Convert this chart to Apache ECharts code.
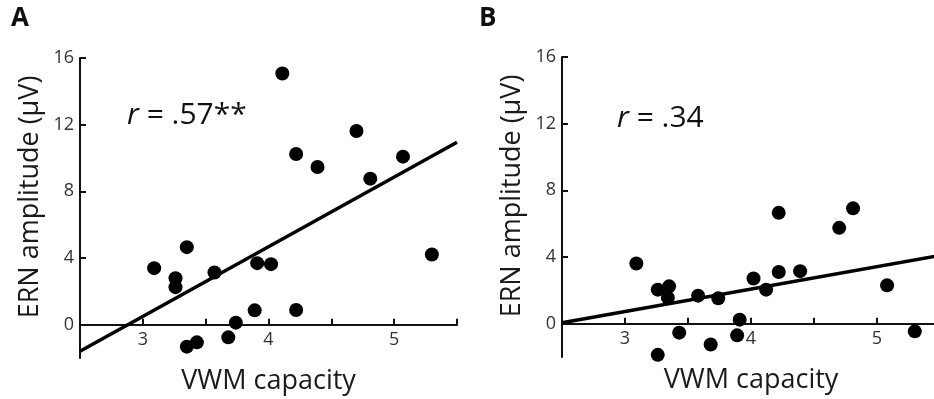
<!DOCTYPE html>
<html>
<head>
<meta charset="utf-8">
<script src="https://cdn.jsdelivr.net/npm/echarts@6/dist/echarts.min.js"></script>
<style>
  html, body { margin: 0; padding: 0; background: #fff; }
  #chart { width: 934px; height: 399px; }
</style>
</head>
<body>
<div id="chart"></div>
<script>
// panel A: VWM capacity vs ERN amplitude
const capacityA = [3.09, 3.26, 3.26, 3.35, 3.35, 3.43, 3.57, 3.68, 3.74, 3.89, 3.91, 4.02, 4.11, 4.22, 4.22, 4.39, 4.70, 4.81, 5.07, 5.30];
const ernA = [3.39, 2.79, 2.25, 4.65, -1.32, -1.06, 3.13, -0.76, 0.12, 0.86, 3.69, 3.63, 15.07, 10.24, 0.88, 9.46, 11.62, 8.76, 10.08, 4.21];
const fitA = [[2.5, -1.6], [5.5, 10.95]];

// panel B
const capacityB = [3.09, 3.26, 3.35, 3.34, 3.26, 3.43, 3.58, 3.68, 3.74, 3.91, 3.89, 4.02, 4.12, 4.22, 4.22, 4.39, 4.70, 4.81, 5.08, 5.30];
const ernB = [3.61, 2.04, 2.24, 1.56, -1.87, -0.54, 1.68, -1.25, 1.52, 0.24, -0.70, 2.71, 2.04, 6.65, 3.10, 3.15, 5.75, 6.92, 2.30, -0.46];
const fitB = [[2.5, 0.05], [5.5, 4.1]];

const yTicks = [0, 4, 8, 12, 16];
const xTicks = [3, 3.5, 4, 4.5, 5, 5.5];
const xLabels = [3, 4, 5];

const FONT = '"Open Sans", sans-serif';
const INK = '#111';

function xAxisFor(gridIndex) {
    return {
        type: 'value',
        gridIndex: gridIndex,
        min: 2.5,
        max: 5.5,
        name: 'VWM capacity',
        nameLocation: 'middle',
        nameGap: 10,
        nameTextStyle: { fontFamily: FONT, fontSize: 27, color: '#1a1a1a' },
        axisLine: { show: true, onZero: true, onZeroAxisIndex: gridIndex, lineStyle: { color: INK, width: 2 } },
        axisTick: { show: true, inside: true, length: 6, lineStyle: { color: INK, width: 2 }, customValues: xTicks },
        // labels sit just under the zero line, not under the grid bottom
        axisLabel: { show: true, fontFamily: FONT, fontSize: 18, color: '#333', margin: -27, customValues: xLabels },
        splitLine: { show: false },
    };
}

function yAxisFor(gridIndex) {
    return {
        type: 'value',
        gridIndex: gridIndex,
        min: -2,
        max: 16,
        name: 'ERN amplitude (μV)',
        nameLocation: 'middle',
        nameGap: 36,
        nameTextStyle: { fontFamily: FONT, fontSize: 27, color: '#1a1a1a', padding: [0, 0, 0, 22] },
        axisLine: { show: true, onZero: false, lineStyle: { color: INK, width: 2 } },
        axisTick: { show: true, inside: true, length: 6, lineStyle: { color: INK, width: 2 }, customValues: yTicks },
        axisLabel: { show: true, fontFamily: FONT, fontSize: 18, color: '#333', margin: 6, customValues: yTicks },
        splitLine: { show: false },
    };
}

function zip(xs, ys) {
    return xs.map((x, i) => [x, ys[i]]);
}

const chart = echarts.init(document.getElementById('chart'));

const option = {
    animation: false,
    backgroundColor: '#fff',
    grid: [
        { left: 80, top: 58, width: 377, height: 300, outerBoundsMode: 'none', containLabel: false },
        { left: 562, top: 57, width: 378, height: 300, outerBoundsMode: 'none', containLabel: false },
    ],
    xAxis: [xAxisFor(0), xAxisFor(1)],
    yAxis: [yAxisFor(0), yAxisFor(1)],
    series: [
        {
            type: 'scatter',
            xAxisIndex: 0, yAxisIndex: 0,
            data: zip(capacityA, ernA),
            symbolSize: 14,
            itemStyle: { color: '#000', opacity: 1 },
        },
        {
            type: 'line',
            xAxisIndex: 0, yAxisIndex: 0,
            data: fitA,
            showSymbol: false,
            lineStyle: { color: '#000', width: 3.5 },
        },
        {
            type: 'scatter',
            xAxisIndex: 1, yAxisIndex: 1,
            data: zip(capacityB, ernB),
            symbolSize: 14,
            itemStyle: { color: '#000', opacity: 1 },
        },
        {
            type: 'line',
            xAxisIndex: 1, yAxisIndex: 1,
            data: fitB,
            showSymbol: false,
            lineStyle: { color: '#000', width: 3.5 },
        },
    ],
    graphic: [
        { type: 'text', left: 11, top: 6, style: { text: 'A', fontFamily: FONT, fontWeight: 'bold', fontSize: 26, fill: '#111' } },
        { type: 'text', left: 479, top: 6, style: { text: 'B', fontFamily: FONT, fontWeight: 'bold', fontSize: 26, fill: '#111' } },
        {
            type: 'text', left: 127, top: 100,
            style: {
                text: '{i|r} = .57**',
                fontFamily: FONT, fontSize: 30, fill: '#111',
                rich: { i: { fontStyle: 'italic', fontFamily: FONT, fontSize: 30, fill: '#111' } },
            },
        },
        {
            type: 'text', left: 617, top: 103,
            style: {
                text: '{i|r} = .34',
                fontFamily: FONT, fontSize: 30, fill: '#111',
                rich: { i: { fontStyle: 'italic', fontFamily: FONT, fontSize: 30, fill: '#111' } },
            },
        },
    ],
};

chart.setOption(option);
</script>
</body>
</html>
